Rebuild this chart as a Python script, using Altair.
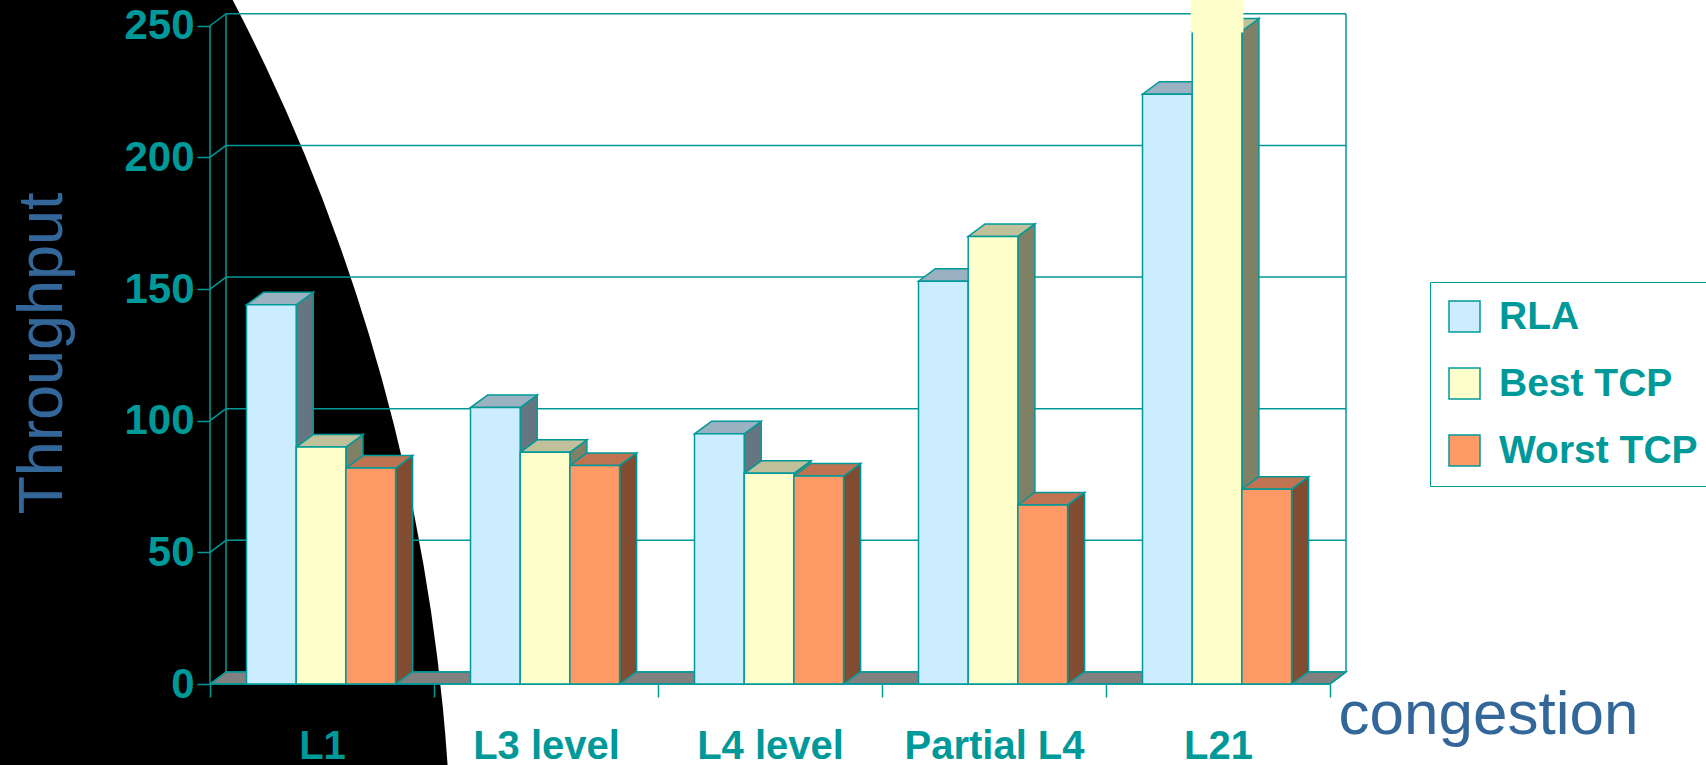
import json
import math
import altair as alt
import pandas as pd

# ---------------- data ----------------
categories = ["L1", "L3 level", "L4 level", "Partial L4", "L21"]
series = ["RLA", "Best TCP", "Worst TCP"]
rla = [144, 105, 95, 153, 224]
best_tcp = [90, 88, 80, 170, 248]
worst_tcp = [82, 83, 79, 68, 74]
y_ticks = [0, 50, 100, 150, 200, 250]
broken_bar = ("L21", "Best TCP")   # bar that runs off the top of the chart

# ---------------- style ----------------
W, H = 1706, 765
PAD_L = 210          # front y-axis position (canvas px)
PLOT_H = 684         # front baseline position (canvas px)
PLOT_W = W - PAD_L
GROUP_PX = 224.0     # width of one category group
UNIT_PX = 2.633      # pixels per throughput unit
TEAL = "#009999"
BLUE = "#336699"
FRONT = ["#CCECFF", "#FFFFCC", "#FF9966"]
SIDE = {"RLA": "#667680", "Best TCP": "#808066", "Worst TCP": "#804D33"}
TOP = {"RLA": "#99B1C0", "Best TCP": "#C0C09A", "Worst TCP": "#C07350"}
BOLD = "Liberation Sans, Arial, sans-serif"
REGULAR = "Liberation Sans, Arial, sans-serif"

DX = 16 / GROUP_PX
DY = 12 / UNIT_PX
BDX = 17 / GROUP_PX
BDY = 12.5 / UNIT_PX
BW = 49.7 / GROUP_PX
BOFF = 36.5 / GROUP_PX
NCAT = len(categories)

xscale = alt.Scale(domain=[0, PLOT_W / GROUP_PX], nice=False, zero=False)
yscale = alt.Scale(domain=[0, PLOT_H / UNIT_PX], nice=False, zero=False)

# ---------------- tables ----------------
vals = {"RLA": rla, "Best TCP": best_tcp, "Worst TCP": worst_tcp}
front_rows, side_rows, top_rows = [], [], []
for i, cat in enumerate(categories):
    for j, s in enumerate(series):
        v = vals[s][i]
        u0 = i + BOFF + j * BW
        u1 = u0 + BW
        bid = f"{i}-{j}"
        front_rows.append(dict(cat=cat, series=s, u0=u0, u1=u1, v=v))
        side_rows += [
            dict(bid=bid, u=u1, lo=0.0, hi=v, fill=SIDE[s]),
            dict(bid=bid, u=u1 + BDX, lo=BDY, hi=v + BDY, fill=SIDE[s]),
        ]
        top_rows += [
            dict(bid=bid, v=v, a=u0, b=u1, fill=TOP[s]),
            dict(bid=bid, v=v + BDY, a=u0 + BDX, b=u1 + BDX, fill=TOP[s]),
        ]
front_df = pd.DataFrame(front_rows)
side_df = pd.DataFrame(side_rows)
top_df = pd.DataFrame(top_rows)
tick_df = pd.DataFrame({"v": y_ticks})
tick_df["vb"] = tick_df["v"] + DY
wall_v_df = pd.DataFrame({"u": [DX, NCAT + DX]})
floor_df = pd.DataFrame({"v": [0.0, DY], "a": [0.0, DX], "b": [float(NCAT), NCAT + DX]})
base_df = pd.DataFrame({"u": [0.0], "u2": [float(NCAT)], "v": [0.0]})
right_df = pd.DataFrame({"u": [float(NCAT)], "u2": [NCAT + DX], "v": [0.0], "v2": [DY]})
broken_df = front_df[(front_df.cat == broken_bar[0]) & (front_df.series == broken_bar[1])]

# ---------------- layers ----------------
# black slide decoration on the left (big circle, centre off-canvas)
bg = alt.Chart(pd.DataFrame({"k": [0]})).mark_arc(
    radius=1940, theta=0, theta2=2 * math.pi, color="black"
).encode(x=alt.value(-1488 - PAD_L), y=alt.value(896))

wall_grid = alt.Chart(tick_df).mark_rule(color=TEAL, strokeWidth=1.5).encode(
    x=alt.datum(DX, scale=xscale),
    x2=alt.datum(NCAT + DX),
    y=alt.Y("vb:Q", scale=yscale),
)
wall_sides = alt.Chart(wall_v_df).mark_rule(color=TEAL, strokeWidth=1.5).encode(
    x=alt.X("u:Q", scale=xscale),
    y=alt.datum(DY, scale=yscale),
    y2=alt.datum(y_ticks[-1] + DY),
)

y_axis = alt.Axis(
    values=y_ticks, domain=False, grid=False, zindex=1,
    tickSize=13, tickColor=TEAL, tickWidth=1.5,
    labelFont=BOLD, labelFontSize=42, labelFontWeight="bold", labelColor=TEAL,
    labelPadding=3, labelBaseline="middle",
    title="Throughput", titleX=-168, titleY=353, titleAngle=270,
    titleAlign="center", titleBaseline="middle",
    titleFont=REGULAR, titleFontSize=63, titleFontWeight="normal", titleColor=BLUE,
)
diag = alt.Chart(tick_df).mark_rule(color=TEAL, strokeWidth=1.5).encode(
    x=alt.datum(0.0, scale=xscale),
    x2=alt.datum(DX),
    y=alt.Y("v:Q", scale=yscale, axis=y_axis),
    y2="vb:Q",
)
front_axis = alt.Chart(base_df).mark_rule(color=TEAL, strokeWidth=1.5).encode(
    x=alt.X("u:Q", scale=xscale),
    y=alt.datum(0.0, scale=yscale),
    y2=alt.datum(float(y_ticks[-1])),
)

floor = alt.Chart(floor_df).mark_area(
    orient="horizontal", color="#808080", stroke=TEAL, strokeWidth=1.5
).encode(
    y=alt.Y("v:Q", scale=yscale),
    x=alt.X("a:Q", scale=xscale),
    x2="b:Q",
)
floor_right = alt.Chart(right_df).mark_rule(color=TEAL, strokeWidth=1.5).encode(
    x=alt.X("u:Q", scale=xscale), x2="u2:Q",
    y=alt.Y("v:Q", scale=yscale), y2="v2:Q",
)

half_vals = [k / 2 for k in range(2 * NCAT + 1)]
label_expr = (
    "datum.value % 1 == 0.5 ? " + json.dumps(categories) + "[floor(datum.value)] : ''"
)
x_axis = alt.Axis(
    values=half_vals, labelExpr=label_expr,
    domain=False, grid=False, zindex=1, labelOverlap=False, labelFlush=False,
    labelLimit=400,
    tickSize=13, tickColor=TEAL, tickWidth=1.5,
    tickOpacity={"condition": {"test": "datum.value % 1 != 0", "value": 0}, "value": 1},
    labelFont=BOLD, labelFontSize=40, labelFontWeight="bold", labelColor=TEAL,
    labelBaseline="alphabetic", labelPadding=61,
    title="congestion", titleX=1338 - PAD_L, titleY=49, titleAlign="left",
    titleBaseline="alphabetic", titleFont=REGULAR, titleFontSize=62,
    titleFontWeight="normal", titleColor=BLUE,
)
baseline = alt.Chart(base_df).mark_rule(color=TEAL, strokeWidth=1.5).encode(
    x=alt.X("u:Q", scale=xscale, axis=x_axis),
    x2="u2:Q",
    y=alt.Y("v:Q", scale=yscale),
)

sides = alt.Chart(side_df).mark_area(stroke=TEAL, strokeWidth=1.5, opacity=1).encode(
    x=alt.X("u:Q", scale=xscale),
    y=alt.Y("lo:Q", scale=yscale),
    y2="hi:Q",
    fill=alt.Fill("fill:N", scale=None),
    detail="bid:N",
)
tops = alt.Chart(top_df).mark_area(
    orient="horizontal", stroke=TEAL, strokeWidth=1.5, opacity=1
).encode(
    y=alt.Y("v:Q", scale=yscale),
    x=alt.X("a:Q", scale=xscale),
    x2="b:Q",
    fill=alt.Fill("fill:N", scale=None),
    detail="bid:N",
)
legend = alt.Legend(
    orient="none", legendX=1430 - PAD_L, legendY=282, title=None,
    padding=15, strokeColor=TEAL, fillColor="white", rowPadding=27,
    symbolType="square", symbolSize=961, symbolStrokeColor=TEAL,
    symbolStrokeWidth=1.5, symbolOpacity=1,
    labelFont=BOLD, labelFontSize=39, labelFontWeight="bold", labelColor=TEAL,
    labelOffset=15, labelLimit=400,
)
fronts = alt.Chart(front_df).mark_rect(stroke=TEAL, strokeWidth=1.5, opacity=1).encode(
    x=alt.X("u0:Q", scale=xscale),
    x2="u1:Q",
    y=alt.Y("v:Q", scale=yscale),
    y2=alt.datum(0.0),
    fill=alt.Fill("series:N", scale=alt.Scale(domain=series, range=FRONT),
                  legend=legend, sort=series),
)
overlay = alt.Chart(broken_df).mark_rect(
    color="#FFFFCC", stroke="#FFFFCC", strokeWidth=3
).encode(
    x=alt.X("u0:Q", scale=xscale),
    x2="u1:Q",
    y=alt.Y("v:Q", scale=yscale),
    y2=alt.value(0),
)

chart = alt.layer(
    bg, wall_grid, wall_sides, floor, floor_right, diag, front_axis, baseline,
    sides, tops, fronts, overlay,
).properties(
    width=PLOT_W, height=PLOT_H,
    padding={"left": PAD_L, "top": 0, "right": 0, "bottom": H - PLOT_H},
    autosize=alt.AutoSizeParams(type="none"),
    background="white",
).configure_view(stroke="transparent")

chart.save("out.html", embed_options={"renderer": "svg", "actions": False})
